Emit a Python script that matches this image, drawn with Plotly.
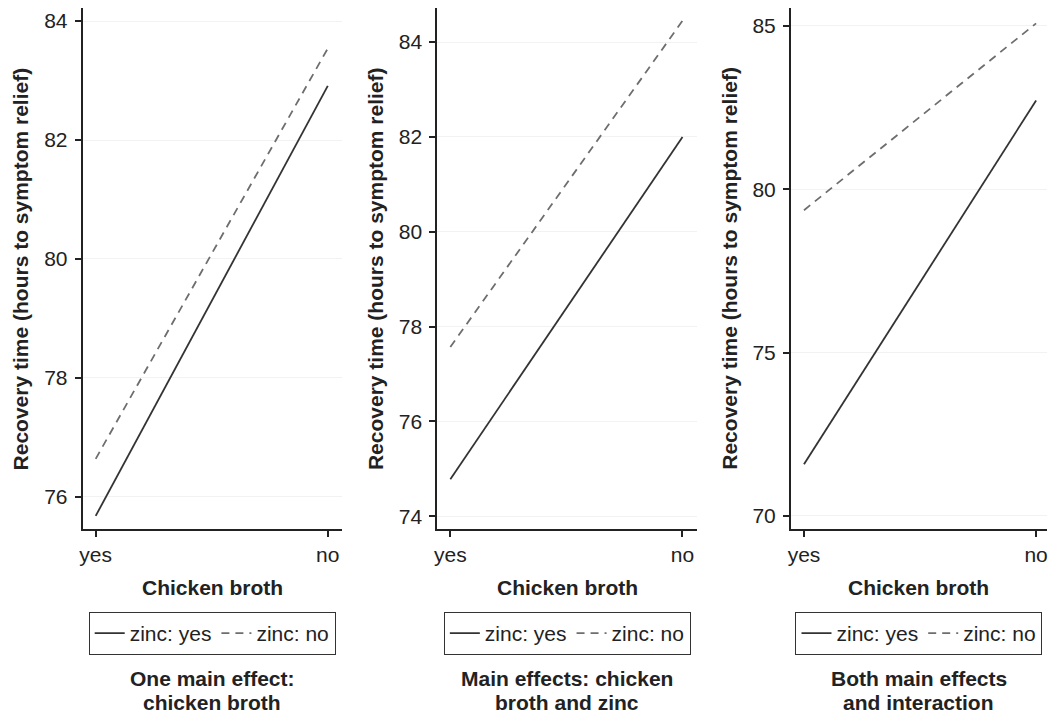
import plotly.graph_objects as go

# ---- data ----
broth = ["yes", "no"]
p1_zinc_yes = [75.68, 82.91]
p1_zinc_no = [76.64, 83.54]
p2_zinc_yes = [74.78, 82.00]
p2_zinc_no = [77.57, 84.45]
p3_zinc_yes = [71.58, 82.72]
p3_zinc_no = [79.36, 85.08]

panel_titles = [("One main effect:", "chicken broth"),
                ("Main effects: chicken", "broth and zinc"),
                ("Both main effects", "and interaction")]
y_title = "Recovery time (hours to symptom relief)"
x_title = "Chicken broth"

W, H = 1050, 715
FONT = "Liberation Sans, Arial, Helvetica, sans-serif"
TXT = "#222222"
SOLID = "#333333"
DASHC = "#6e6e6e"
FS = 21

fig = go.Figure()

series = [(p1_zinc_yes, p1_zinc_no), (p2_zinc_yes, p2_zinc_no), (p3_zinc_yes, p3_zinc_no)]
legend_names = ["legend", "legend2", "legend3"]
for i, (ys, yn) in enumerate(series):
    ax = "" if i == 0 else str(i + 1)
    fig.add_trace(go.Scatter(x=broth, y=ys, mode="lines", name="zinc: yes",
                             line=dict(color=SOLID, width=1.8),
                             xaxis="x" + ax, yaxis="y" + ax, legend=legend_names[i]))
    fig.add_trace(go.Scatter(x=broth, y=yn, mode="lines", name="zinc: no",
                             line=dict(color=DASHC, width=1.8, dash="8px,6px"),
                             xaxis="x" + ax, yaxis="y" + ax, legend=legend_names[i]))

# pixel geometry
x_doms_px = [(80, 340), (436, 697), (791, 1048)]
y_top, y_bot = 8, 529
y_ranges = [(75.46, 84.22), (73.73, 84.72), (69.6, 85.55)]
y_dticks = [2, 2, 5]
x_ranges = [(-0.056, 1.06), (-0.056, 1.064), (-0.056, 1.047)]

def px_x(p):
    return p / W

def px_y(p):
    return 1 - p / H

axis_common = dict(showline=True, linecolor="#222222", linewidth=2,
                   ticks="outside", ticklen=6, tickwidth=2, tickcolor="#222222",
                   tickfont=dict(family=FONT, size=FS, color=TXT),
                   zeroline=False)

layout = dict(width=W, height=H, margin=dict(l=0, r=0, t=0, b=0),
              paper_bgcolor="white", plot_bgcolor="white",
              font=dict(family=FONT, color=TXT))

annotations = []
for i in range(3):
    ax = "" if i == 0 else str(i + 1)
    x0, x1 = x_doms_px[i]
    layout["xaxis" + ax] = dict(domain=[px_x(x0), px_x(x1)], anchor="y" + ax,
                                type="category", range=list(x_ranges[i]),
                                showgrid=False, **axis_common)
    layout["yaxis" + ax] = dict(domain=[px_y(y_bot), px_y(y_top)], anchor="x" + ax,
                                range=list(y_ranges[i]), dtick=y_dticks[i], tick0=0,
                                showgrid=True, gridcolor="#f2f2f2", gridwidth=1.2,
                                ticklabelstandoff=3,
                                **axis_common)
    cx = (x0 + x1) / 2
    # legend
    layout[legend_names[i]] = dict(orientation="h", x=px_x(cx), xanchor="center",
                                   y=px_y(633.5), yanchor="middle",
                                   bordercolor="#333333", borderwidth=1,
                                   bgcolor="white",
                                   font=dict(family=FONT, size=FS, color=TXT),
                                   itemwidth=30, tracegroupgap=0)
    # x title
    annotations.append(dict(text="<b>" + x_title + "</b>", xref="paper", yref="paper",
                            x=px_x(cx), y=px_y(587), xanchor="center", yanchor="middle",
                            showarrow=False, font=dict(family=FONT, size=FS, color=TXT)))
    # panel caption (two lines)
    for line_text, yc in zip(panel_titles[i], (678, 702)):
        annotations.append(dict(text="<b>" + line_text + "</b>", xref="paper", yref="paper",
                                x=px_x(cx), y=px_y(yc), xanchor="center", yanchor="middle",
                                showarrow=False, borderpad=0,
                                font=dict(family=FONT, size=FS, color=TXT)))
# y titles
for xc in [18, 374, 729]:
    annotations.append(dict(text="<b>" + y_title + "</b>", xref="paper", yref="paper",
                            x=px_x(xc), y=px_y((y_top + y_bot) / 2), xanchor="center",
                            yanchor="middle", textangle=-90, showarrow=False,
                            font=dict(family=FONT, size=FS, color=TXT)))

layout["annotations"] = annotations
layout["showlegend"] = True
fig.update_layout(**layout)

fig.write_html("out.html")
